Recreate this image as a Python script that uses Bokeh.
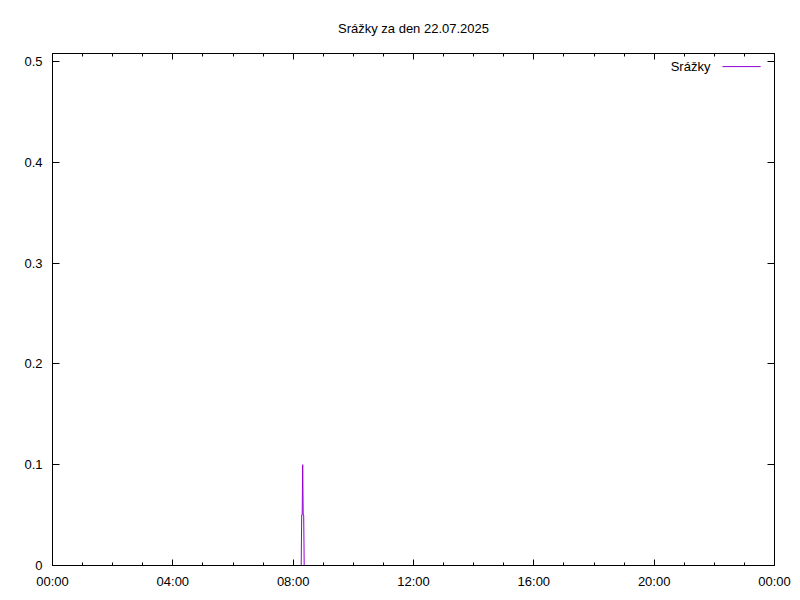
from bokeh.plotting import figure
from bokeh.models import Range1d, LinearAxis, FixedTicker, Label
from bokeh.embed import file_html
from bokeh.resources import INLINE

# ---- data ----
title_text = "Srážky za den 22.07.2025"
series_name = "Srážky"
rain_times = ["08:16", "08:17", "08:18", "08:19", "08:20", "08:21", "08:22"]
rain_values = [0.0, 0.05, 0.05, 0.1, 0.05, 0.05, 0.0]
x_tick_hours = [0, 4, 8, 12, 16, 20, 24]
x_tick_labels = ["00:00", "04:00", "08:00", "12:00", "16:00", "20:00", "00:00"]
x_minor_hours = list(range(0, 25))
y_ticks = [0, 0.1, 0.2, 0.3, 0.4, 0.5]
y_tick_labels = ["0", "0.1", "0.2", "0.3", "0.4", "0.5"]


def to_hours(s):
    h, m = s.split(":")
    return int(h) + int(m) / 60.0


rain_hours = [to_hours(t) for t in rain_times]

FONT = "Liberation Sans"
FS = "13px"
PURPLE = "#9400d3"

p = figure(width=800, height=600, output_backend="svg", toolbar_location=None,
           x_range=Range1d(0, 24), y_range=Range1d(0, 0.508),
           x_axis_location=None, y_axis_location=None,
           min_border_left=52, min_border_right=26, min_border_top=52, min_border_bottom=35)
p.grid.visible = False
p.outline_line_color = None
p.background_fill_color = "white"
p.border_fill_color = "white"

p.title.text = title_text
p.title.align = "center"
p.title.text_font = FONT
p.title.text_font_size = FS
p.title.text_font_style = "normal"
p.title.text_color = "black"
p.title.standoff = 36


def style(ax, labels=True, minor=True, major_len=6, minor_len=3):
    ax.axis_line_color = "black"
    ax.major_tick_line_color = "black"
    ax.minor_tick_line_color = "black"
    ax.major_tick_in = major_len
    ax.major_tick_out = 0
    ax.minor_tick_in = minor_len if minor else 0
    ax.minor_tick_out = 0
    ax.major_label_text_font = FONT
    ax.major_label_text_font_size = FS if labels else "0px"
    ax.major_label_text_color = "black"


xticker = FixedTicker(ticks=x_tick_hours, minor_ticks=x_minor_hours)
yticker = FixedTicker(ticks=y_ticks, minor_ticks=[])
xover = {h: l for h, l in zip(x_tick_hours, x_tick_labels)}
yover = {t: l for t, l in zip(y_ticks, y_tick_labels)}

xb = LinearAxis(ticker=xticker, major_label_overrides=xover)
style(xb)
xb.major_label_standoff = 8
p.add_layout(xb, "below")

xt = LinearAxis(ticker=xticker, major_label_overrides={h: "" for h in x_tick_hours})
style(xt, labels=False)
xt.major_label_standoff = 0
p.add_layout(xt, "above")

yl = LinearAxis(ticker=yticker, major_label_overrides=yover)
style(yl, minor=False, major_len=7)
yl.major_label_standoff = 10
p.add_layout(yl, "left")

yr = LinearAxis(ticker=yticker, major_label_overrides={t: "" for t in y_ticks})
style(yr, labels=False, minor=False, major_len=7)
yr.major_label_standoff = 0
p.add_layout(yr, "right")

p.line(rain_hours, rain_values, line_color=PURPLE, line_width=1)

# legend (gnuplot style: text then sample)
p.add_layout(Label(x=21.87, y=0.495, text=series_name, text_align="right",
                   text_baseline="middle", text_font=FONT, text_font_size=FS,
                   text_color="black"))
p.segment(x0=[22.27], y0=[0.495], x1=[23.54], y1=[0.495], line_color=PURPLE, line_width=1)

open("out.html", "w").write(file_html(p, INLINE))
